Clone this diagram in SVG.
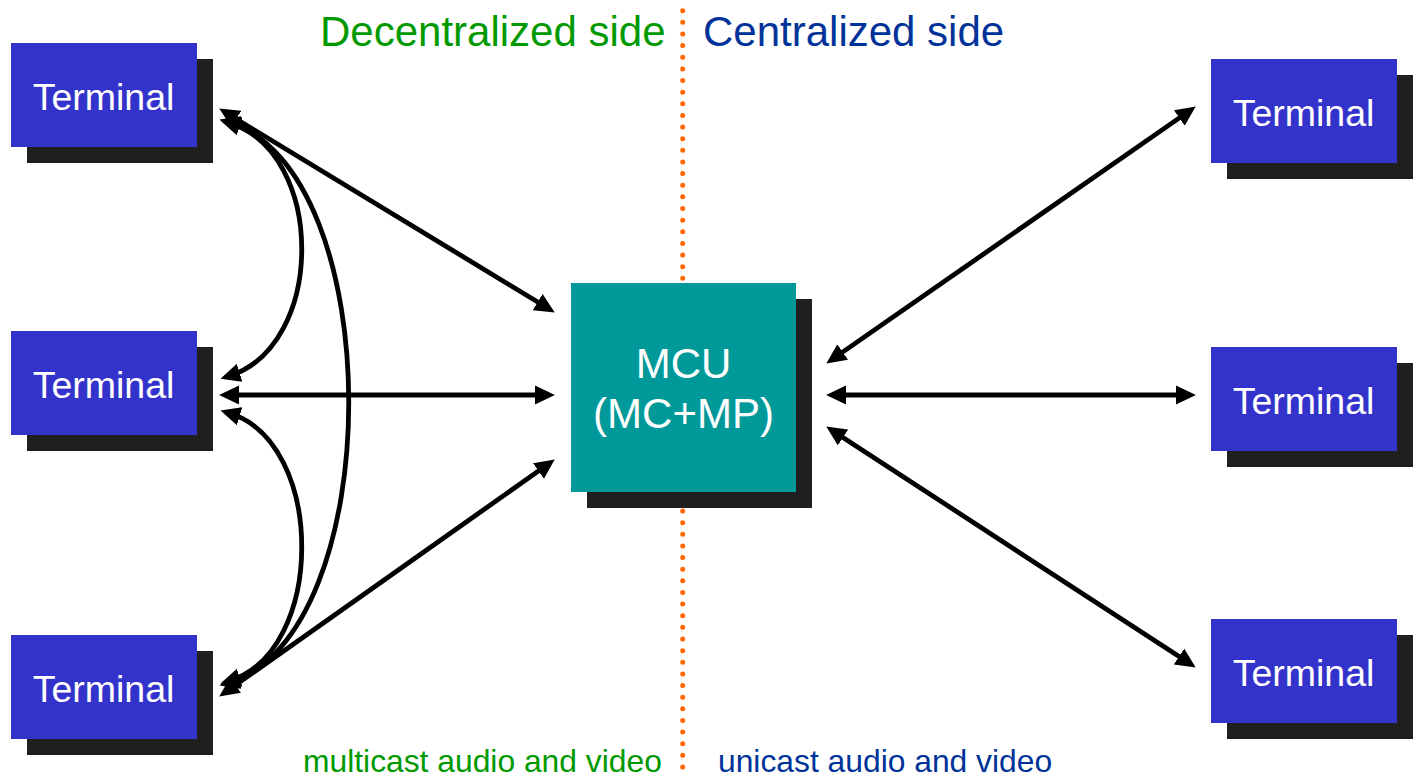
<svg xmlns="http://www.w3.org/2000/svg" width="1420" height="778" viewBox="0 0 1420 778">
<defs>
<marker id="ah" markerUnits="userSpaceOnUse" markerWidth="20" markerHeight="20" viewBox="0 0 18 17" refX="10" refY="8.5" orient="auto-start-reverse">
<path d="M0,0 L18,8.5 L0,17 z" fill="#000"/>
</marker>
</defs>
<style>
.shadow{fill:#1f1f1f}
.term{fill:#3333cc}
.mcu{fill:#009999}
.lbl{font-family:"Liberation Sans",Arial,sans-serif;fill:#fff;text-anchor:middle}
.conn{fill:none;stroke:#000;stroke-width:4.8;marker-start:url(#ah);marker-end:url(#ah)}
.hdr{font-family:"Liberation Sans",Arial,sans-serif;font-size:42px}
.foot{font-family:"Liberation Sans",Arial,sans-serif;font-size:31.8px}
</style>
<rect width="1420" height="778" fill="#fff"/>
<line id="divider" x1="682.7" y1="10.7" x2="682.7" y2="767" stroke="#ff6600" stroke-width="5" stroke-linecap="round" stroke-dasharray="0 11.635"/>
<text class="hdr" x="320" y="46" fill="#009900">Decentralized side</text>
<text class="hdr" x="703" y="46" fill="#003399">Centralized side</text>
<text class="foot" x="303" y="771.5" fill="#009900">multicast audio and video</text>
<text class="foot" x="718" y="771.5" fill="#003399">unicast audio and video</text>
<g id="connectors">
<line class="conn" x1="226.8" y1="113.2" x2="547.2" y2="307.8"/>
<line class="conn" x1="228" y1="395" x2="546" y2="395"/>
<line class="conn" x1="226.5" y1="691.4" x2="547.5" y2="464.6"/>
<path class="conn" d="M229,123 C326,152 326,346 229,376"/>
<path class="conn" d="M228,122 C389,170 389,635 228,683"/>
<path class="conn" d="M229,413 C326,442 326,652 229,681"/>
<line class="conn" x1="833.6" y1="358.4" x2="1188.4" y2="111.6"/>
<line class="conn" x1="835" y1="395" x2="1187" y2="395"/>
<line class="conn" x1="833.7" y1="431.4" x2="1188.3" y2="662.6"/>
</g>
<g id="term-tl">
<rect class="shadow" x="27" y="59" width="186" height="104"/>
<rect class="term" x="11" y="43" width="186" height="104"/>
<text class="lbl" x="103.5" y="109.5" font-size="37.5">Terminal</text>
</g>
<g id="term-ml">
<rect class="shadow" x="27" y="347" width="186" height="104"/>
<rect class="term" x="11" y="331" width="186" height="104"/>
<text class="lbl" x="103.5" y="397.5" font-size="37.5">Terminal</text>
</g>
<g id="term-bl">
<rect class="shadow" x="27" y="651" width="186" height="104"/>
<rect class="term" x="11" y="635" width="186" height="104"/>
<text class="lbl" x="103.5" y="701.5" font-size="37.5">Terminal</text>
</g>
<g id="term-tr">
<rect class="shadow" x="1227" y="75" width="186" height="104"/>
<rect class="term" x="1211" y="59" width="186" height="104"/>
<text class="lbl" x="1303.5" y="125.5" font-size="37.5">Terminal</text>
</g>
<g id="term-mr">
<rect class="shadow" x="1227" y="363" width="186" height="104"/>
<rect class="term" x="1211" y="347" width="186" height="104"/>
<text class="lbl" x="1303.5" y="413.5" font-size="37.5">Terminal</text>
</g>
<g id="term-br">
<rect class="shadow" x="1227" y="635" width="186" height="104"/>
<rect class="term" x="1211" y="619" width="186" height="104"/>
<text class="lbl" x="1303.5" y="685.5" font-size="37.5">Terminal</text>
</g>
<g id="mcu">
<rect class="shadow" x="587" y="299" width="225" height="209"/>
<rect class="mcu" x="571" y="283" width="225" height="209"/>
<text class="lbl" x="683.5" y="378" font-size="42">MCU</text>
<text class="lbl" x="683.5" y="428" font-size="42">(MC+MP)</text>
</g>
</svg>
